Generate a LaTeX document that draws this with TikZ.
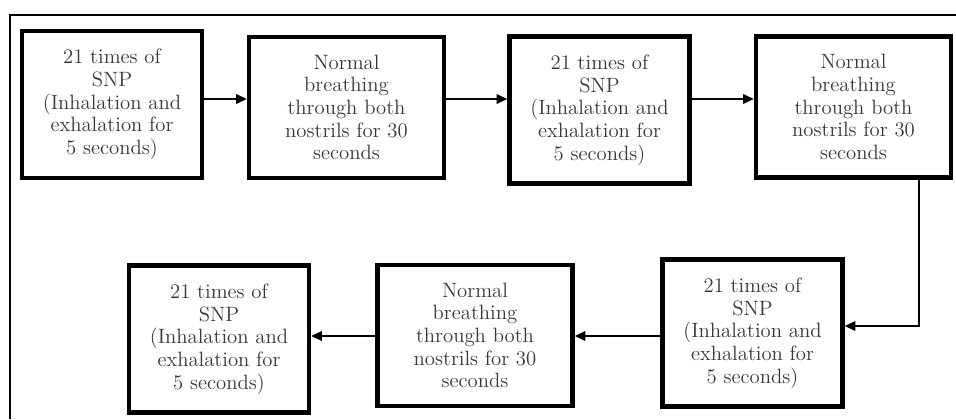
\documentclass[tikz,border=0pt]{standalone}
\usepackage{tikz}
\usetikzlibrary{shapes,arrows,arrows.meta,positioning,calc}
\usepackage{xcolor}
\definecolor{textgray}{RGB}{55,55,55}

\begin{document}
\begin{tikzpicture}[
    x=0.02cm, y=-0.02cm,
    box/.style={rectangle, draw=black, line width=2.6pt, align=center, text=textgray,
                font=\fontsize{11.8}{12.9}\selectfont},
    snp/.style={box, minimum width=3.6cm, minimum height=2.94cm},
    breath/.style={box, minimum width=3.9cm, minimum height=2.82cm},
    arr/.style={-{Triangle[length=6pt,width=5.5pt]}, line width=0.7pt},
    frame/.style={line width=0.8pt}
]
    \useasboundingbox (0,0) rectangle (956,419);

    % Frame
    \draw[frame] (10,419) -- (10,15) -- (956,15);

    % Top row
    \node[snp] (snpA) at (112,104.5) {21 times of\\SNP\\(Inhalation and\\exhalation for\\5 seconds)};
    \node[breath] (breathA) at (346.5,107.5) {Normal\\breathing\\through both\\nostrils for 30\\seconds};
    \node[snp] (snpB) at (599.5,110) {21 times of\\SNP\\(Inhalation and\\exhalation for\\5 seconds)};
    \node[breath] (breathB) at (853.5,107) {Normal\\breathing\\through both\\nostrils for 30\\seconds};

    % Bottom row
    \node[snp] (snpC) at (752.5,333) {21 times of\\SNP\\(Inhalation and\\exhalation for\\5 seconds)};
    \node[breath] (breathC) at (475,335.5) {Normal\\breathing\\through both\\nostrils for 30\\seconds};
    \node[snp] (snpD) at (219,339) {21 times of\\SNP\\(Inhalation and\\exhalation for\\5 seconds)};

    % Routing points
    \coordinate (toprow) at (0,99);
    \coordinate (botrow) at (0,336);
    \coordinate (turn) at (919,326);

    % Edges
    \draw[arr] (snpA.east |- toprow) -- (breathA.west |- toprow);
    \draw[arr] (breathA.east |- toprow) -- (snpB.west |- toprow);
    \draw[arr] (snpB.east |- toprow) -- (breathB.west |- toprow);
    \draw[arr] (breathB.south -| turn) -- (turn) -- (snpC.east |- turn);
    \draw[arr] (snpC.west |- botrow) -- (breathC.east |- botrow);
    \draw[arr] (breathC.west |- botrow) -- (snpD.east |- botrow);
\end{tikzpicture}
\end{document}
